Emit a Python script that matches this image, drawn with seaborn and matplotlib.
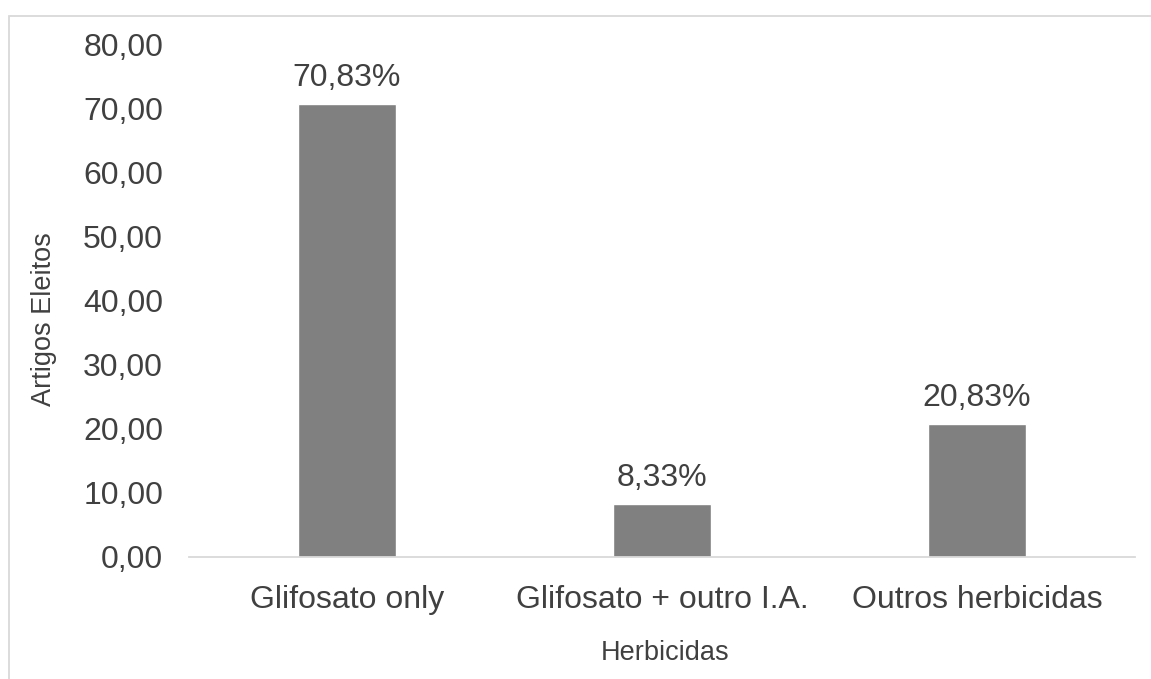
import matplotlib
matplotlib.use("Agg")
import matplotlib.pyplot as plt
from matplotlib.ticker import FuncFormatter, MultipleLocator
from matplotlib.patches import Rectangle
import seaborn as sns
import pandas as pd

categories = ["Glifosato only", "Glifosato + outro I.A.", "Outros herbicidas"]
values = [70.83, 8.33, 20.83]
x_label = "Herbicidas"
y_label = "Artigos Eleitos"

df = pd.DataFrame({"cat": categories, "val": values})

sns.set_theme(style="white")
plt.rcParams["font.family"] = ["Liberation Sans", "DejaVu Sans"]
text_color = "#404040"

fig = plt.figure(figsize=(11.51, 6.79), dpi=100)
ax = fig.add_axes([189.5 / 1151, 122 / 679, 945 / 1151, 512 / 679])

sns.barplot(data=df, x="cat", y="val", color="#808080", saturation=1,
            width=0.31, ax=ax)

ax.set_ylim(0, 80)
ax.set_xlim(-0.5, 2.5)
ax.yaxis.set_major_locator(MultipleLocator(10))
ax.yaxis.set_major_formatter(FuncFormatter(lambda v, p: f"{v:.2f}".replace(".", ",")))

for s in ["top", "right", "left"]:
    ax.spines[s].set_visible(False)
ax.spines["bottom"].set_color("#d9d9d9")
ax.spines["bottom"].set_linewidth(1.3)

ax.tick_params(axis="y", length=0, pad=19, labelsize=23, labelcolor=text_color)
ax.tick_params(axis="x", length=0, pad=20, labelsize=23, labelcolor=text_color)

ax.set_xlabel(x_label, fontsize=19.5, color=text_color)
ax.set_ylabel(y_label, fontsize=19.5, color=text_color)
ax.xaxis.label.set(va="center", ha="center")
ax.yaxis.label.set(va="center", ha="center", rotation_mode="default")
ax.xaxis.set_label_coords(0.503, -0.1875)
ax.yaxis.set_label_coords(-0.154, 0.465)

for i, v in enumerate(values):
    ax.annotate(f"{v:.2f}".replace(".", ",") + "%", (i, v), xytext=(0, 13),
                textcoords="offset points", ha="center", va="baseline",
                fontsize=23, color=text_color)

# chart-area border (only top and left visible in the cropped reference)
fig.patches.append(Rectangle((8.5 / 1151, -0.2), 1.5, (679 - 16) / 679 + 0.2,
                             transform=fig.transFigure, fill=False,
                             edgecolor="#d9d9d9", linewidth=1.3, zorder=0))

fig.savefig("out.png", dpi=100)
